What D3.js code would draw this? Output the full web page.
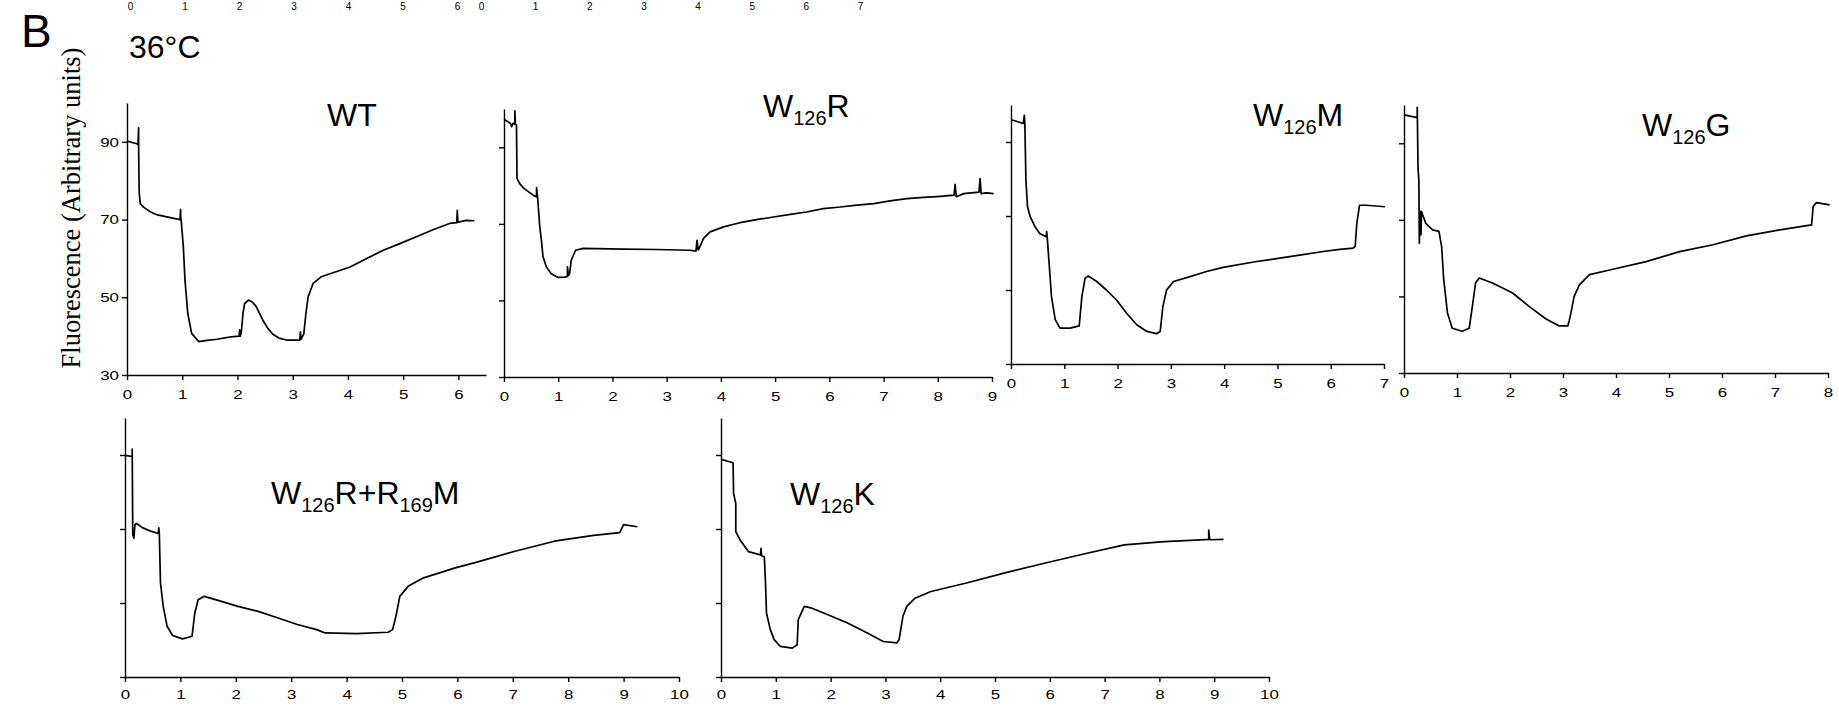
<html>
<head>
<meta charset="utf-8">
<title>Fluorescence traces 36C</title>
<style>
    body { margin: 0; background: #fff; }
    text { font-family: Arial, "Liberation Sans", sans-serif; fill: #000; }
    .trace { fill: none; stroke: #000; stroke-width: 1.7px; stroke-linejoin: round; }
    .axis path, .axis line { stroke: #000; stroke-width: 1.4px; }
    .axis text { font-size: 13px; }
    .ylabel { font-family: "Liberation Serif", "Times New Roman", serif; font-size: 26.5px; }
</style>
</head>
<body>
<div id="chart"></div>
<script src="https://d3js.org/d3.v7.min.js"></script>
<script>

// time (x) and fluorescence (arbitrary units)
var wtTrace = [[0,90.2],[0.18,89.5],[0.2,89.3],[0.21,93.6],[0.21,89.3],[0.22,77.1],[0.24,74.1],[0.3,73.2],[0.42,72.0],
    [0.55,71.2],[0.72,70.7],[0.85,70.3],[0.96,70.0],[0.97,72.6],[0.975,70.0],[0.98,70.0],[1.02,63.0],[1.05,54.4],
    [1.1,45.9],[1.17,40.7],[1.3,38.6],[1.45,38.9],[1.63,39.2],[1.8,39.6],[1.93,39.9],[2.03,40.0],[2.04,41.6],[2.05,40.0],
    [2.07,41.0],[2.1,45.9],[2.13,48.4],[2.2,49.3],[2.27,48.8],[2.34,47.6],[2.46,44.1],[2.55,42.0],[2.64,40.5],[2.75,39.5],
    [2.89,39.0],[3.0,39.0],[3.13,39.0],[3.14,41.1],[3.15,39.2],[3.2,40.5],[3.24,45.9],[3.28,50.1],[3.37,53.6],[3.52,55.3],
    [3.73,56.3],[4.04,57.8],[4.34,60.0],[4.64,62.1],[4.94,63.8],[5.24,65.6],[5.54,67.4],[5.84,69.0],[5.97,69.2],
    [5.98,72.4],[5.99,69.3],[6.02,69.4],[6.14,69.8],[6.29,69.7]];

var w126rTrace = [[0,97.3],[0.07,96.7],[0.12,96.2],[0.14,95.4],[0.17,96.3],[0.2,96.0],[0.2,99.5],[0.21,96.0],[0.23,95.8],
    [0.24,81.9],[0.29,80.5],[0.35,79.5],[0.41,78.8],[0.54,77.5],[0.6,77.0],[0.6,79.5],[0.62,76.9],[0.66,69.2],[0.69,65.7],
    [0.72,61.4],[0.78,58.8],[0.87,57.0],[1.0,56.0],[1.12,56.1],[1.17,56.3],[1.17,58.8],[1.19,56.5],[1.21,57.0],[1.24,60.5],
    [1.32,63.1],[1.46,63.6],[2.2,63.4],[2.81,63.3],[3.43,63.1],[3.54,62.9],[3.56,65.7],[3.58,63.2],[3.6,63.6],[3.68,66.2],
    [3.8,67.9],[4.05,69.2],[4.35,70.3],[4.66,71.1],[4.97,71.8],[5.28,72.5],[5.58,73.1],[5.89,74.0],[6.2,74.4],[6.51,74.9],
    [6.82,75.3],[7.12,76.0],[7.43,76.6],[7.74,76.9],[8.05,77.2],[8.3,77.5],[8.32,80.3],[8.34,77.1],[8.48,77.9],[8.76,78.3],
    [8.78,81.8],[8.8,77.9],[8.9,78.1],[9.03,77.9]];

var w126mTrace = [[0,96.0],[0.1,95.6],[0.23,95.0],[0.25,97.2],[0.26,95.0],[0.28,79.7],[0.31,72.5],[0.36,69.8],[0.45,67.1],
    [0.54,65.3],[0.66,64.4],[0.67,65.8],[0.68,64.2],[0.72,56.3],[0.76,48.2],[0.83,42.0],[0.92,39.7],[1.11,39.7],[1.28,40.3],
    [1.33,48.2],[1.39,53.2],[1.45,53.8],[1.61,52.3],[1.79,50.0],[1.98,47.3],[2.17,43.7],[2.36,40.6],[2.55,38.8],[2.73,38.2],
    [2.8,38.8],[2.85,45.5],[2.92,50.0],[3.05,52.3],[3.36,53.6],[3.67,55.0],[3.98,56.1],[4.61,57.7],[5.23,59.0],[5.86,60.4],
    [6.17,61.0],[6.42,61.3],[6.46,61.8],[6.49,68.0],[6.54,72.9],[6.67,72.9],[7.02,72.5]];

var w126gTrace = [[0,97.4],[0.25,96.7],[0.25,99.4],[0.265,83.5],[0.28,80.4],[0.29,63.9],[0.3,72.2],[0.32,66.1],[0.33,72.2],
    [0.41,69.1],[0.54,67.4],[0.66,67.0],[0.71,63.0],[0.75,54.3],[0.82,45.7],[0.91,41.7],[1.1,40.9],[1.23,41.7],[1.29,47.4],
    [1.35,53.5],[1.42,54.8],[1.67,53.5],[2.05,50.9],[2.36,47.4],[2.68,44.1],[2.93,42.3],[3.09,42.3],[3.12,43.8],[3.15,45.7],
    [3.21,50.0],[3.31,53.0],[3.5,55.7],[3.94,57.1],[4.57,59.1],[5.2,61.7],[5.83,63.5],[6.46,65.8],[7.09,67.4],[7.69,68.7],
    [7.72,73.5],[7.78,74.5],[8.03,73.9]];

var w126rr169mTrace = [[0,89.9],[0.13,89.6],[0.13,91.6],[0.14,68.5],[0.16,67.5],[0.18,71.2],[0.21,71.5],[0.32,70.3],
    [0.45,69.5],[0.6,68.8],[0.61,70.3],[0.62,68.6],[0.64,55.5],[0.69,49.1],[0.76,43.7],[0.86,41.2],[1.04,40.3],[1.21,41.0],
    [1.26,47.3],[1.32,50.9],[1.43,51.8],[1.68,50.7],[2.04,49.1],[2.39,47.8],[2.75,46.0],[3.11,44.2],[3.46,42.8],[3.61,41.9],
    [4.18,41.7],[4.75,42.1],[4.83,42.8],[4.89,46.4],[4.96,51.8],[5.11,54.5],[5.39,56.8],[5.96,59.5],[6.32,60.9],[7.04,64.0],
    [7.75,66.7],[8.46,68.3],[8.93,69.0],[9.0,71.2],[9.25,70.6]];

var w126kTrace = [[0,88.8],[0.22,87.9],[0.23,79.6],[0.27,76.9],[0.27,69.3],[0.35,67.0],[0.5,63.9],[0.72,63.0],[0.73,64.8],
    [0.74,62.8],[0.79,62.5],[0.81,56.3],[0.83,47.3],[0.9,42.8],[0.97,40.1],[1.08,38.3],[1.3,37.8],[1.39,38.7],[1.41,45.5],
    [1.52,49.1],[1.66,48.6],[1.95,46.8],[2.31,44.6],[2.67,41.9],[2.96,39.6],[3.21,39.2],[3.25,40.1],[3.32,46.4],[3.39,49.1],
    [3.54,51.3],[3.83,53.1],[4.48,55.4],[5.2,58.2],[5.92,60.8],[6.64,63.3],[7.36,65.7],[8.09,66.6],[8.66,67.0],[8.9,67.2],
    [8.9,69.7],[8.92,67.1],[9.17,67.2]];

// panel titles: even parts normal, odd parts subscript
var panelTitles = [["WT"], ["W","126","R"], ["W","126","M"], ["W","126","G"], ["W","126","R+R","169","M"], ["W","126","K"]];
var panelXMax = [6.5, 9, 7, 8, 10, 10];
var yDomain = [30, 100];
var yTicks = [30, 50, 70, 90];

// cut-off tick labels of the panels above
var prevTicksA = [0, 1, 2, 3, 4, 5, 6];
var prevTicksB = [0, 1, 2, 3, 4, 5, 6, 7];

var traces = [wtTrace, w126rTrace, w126mTrace, w126gTrace, w126rr169mTrace, w126kTrace];

// plot frames in page pixels
var frames = [
    {x0:127, x1:486, y0:375, y1:103},
    {x0:504, x1:992, y0:377, y1:109},
    {x0:1011, x1:1384, y0:364, y1:105},
    {x0:1404, x1:1828, y0:373, y1:105},
    {x0:125, x1:679, y0:677, y1:418},
    {x0:721, x1:1269, y0:677, y1:418}
];
var titlePos = [[327,126],[763,117],[1253,126],[1642,136],[271,504],[790,505]];

var width = 1839, height = 706, stretch = 1.3;
var intFmt = d3.format("d");

var svg = d3.select("#chart").append("svg")
    .attr("width", width).attr("height", height);

// leftover labels at the top edge
function topLabels(ticks, a, b){
    var s = d3.scaleLinear().domain([0, ticks[ticks.length-1]]).range([a, b]);
    var g = svg.append("g").attr("transform", "translate(0,3)")
        .call(d3.axisBottom(s).tickValues(ticks).tickSize(0).tickPadding(0).tickFormat(intFmt));
    g.select(".domain").remove();
    g.selectAll("text").style("font-size", "10px").attr("font-family", null);
}
topLabels(prevTicksA, 130, 457);
topLabels(prevTicksB, 481, 860);

svg.append("text").attr("x", 21).attr("y", 47).style("font-size", "46px").text("B");
svg.append("text").attr("x", 129).attr("y", 58).style("font-size", "32px").text("36°C");

svg.append("text").attr("class", "ylabel")
    .attr("transform", "translate(80,208) rotate(-90)")
    .attr("text-anchor", "middle")
    .text("Fluorescence (Arbitrary units)");

var line = d3.line();

frames.forEach(function(f, i){
    var x = d3.scaleLinear().domain([0, panelXMax[i]]).range([f.x0, f.x1]);
    var y = d3.scaleLinear().domain(yDomain).range([f.y0, f.y1]);
    var g = svg.append("g");

    var xTicks = d3.range(0, Math.floor(panelXMax[i]) + 1);
    var xa = g.append("g").attr("class", "axis")
        .attr("transform", "translate(0," + f.y0 + ")")
        .call(d3.axisBottom(x).tickValues(xTicks).tickFormat(intFmt)
            .tickSize(5).tickSizeOuter(0).tickPadding(i < 4 ? 10 : 8));
    xa.selectAll("text").attr("font-family", null).attr("transform", "scale(" + stretch + ",1)");

    var ya = g.append("g").attr("class", "axis")
        .attr("transform", "translate(" + f.x0 + ",0)")
        .call(d3.axisLeft(y).tickValues(yTicks).tickSize(5).tickSizeOuter(0)
            .tickFormat(i == 0 ? intFmt : ""));
    ya.selectAll("text").attr("font-family", null)
        .attr("x", -8 / stretch).attr("transform", "scale(" + stretch + ",1)");

    line.x(function(d){ return x(d[0]); }).y(function(d){ return y(d[1]); });
    g.append("path").attr("class", "trace").attr("d", line(traces[i]));

    var t = g.append("text").attr("x", titlePos[i][0]).attr("y", titlePos[i][1]).style("font-size", "32px");
    panelTitles[i].forEach(function(part, k){
        var sp = t.append("tspan").text(part);
        if (k % 2 == 1) {
            sp.style("font-size", "20px").attr("dy", 8);
        } else if (k > 0) {
            sp.attr("dy", -8);
        }
    });
});

</script>
</body>
</html>
